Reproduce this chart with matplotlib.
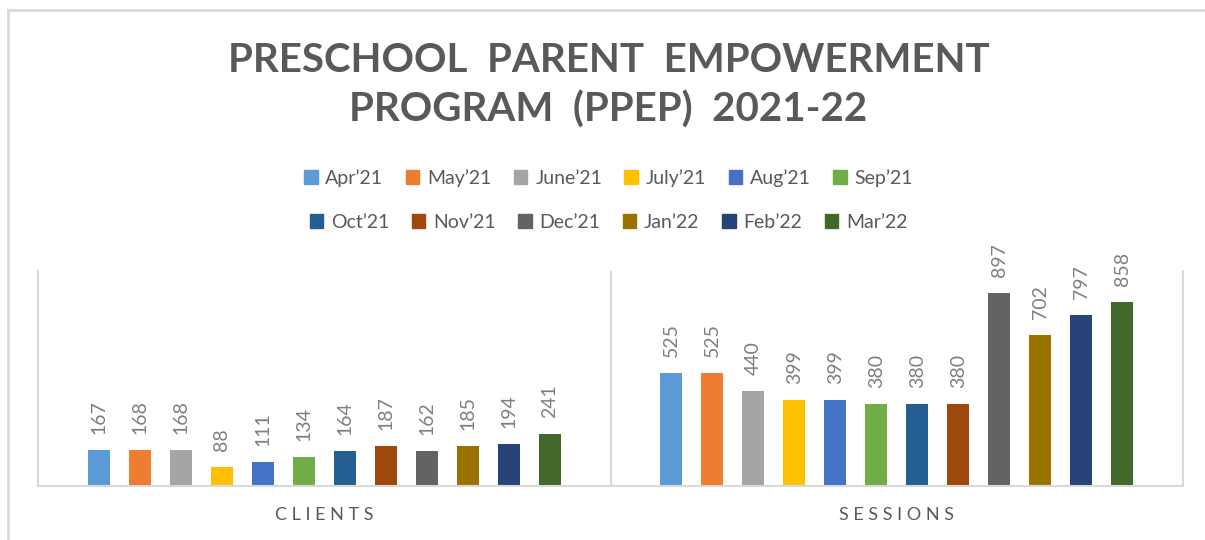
"""PPEP 2021-22: clients and sessions per month, grouped bar chart."""

import matplotlib

matplotlib.use("Agg")
import matplotlib.pyplot as plt
from matplotlib.lines import Line2D
from matplotlib.patches import Patch

plt.rcParams["font.family"] = ["Lato", "DejaVu Sans"]

categories = ["CLIENTS", "SESSIONS"]
months = ["Apr’21", "May’21", "June’21", "July’21", "Aug’21", "Sep’21",
          "Oct’21", "Nov’21", "Dec’21", "Jan’22", "Feb’22", "Mar’22"]
clients = [167, 168, 168, 88, 111, 134, 164, 187, 162, 185, 194, 241]
sessions = [525, 525, 440, 399, 399, 380, 380, 380, 897, 702, 797, 858]
colors = ["#5B9BD5", "#ED7D31", "#A5A5A5", "#FFC000", "#4472C4", "#70AD47",
          "#255E91", "#9E480E", "#636363", "#997300", "#264478", "#43682B"]

TEXT = "#595959"
LABEL = "#7F7F7F"
LINE = "#D9D9D9"

fig = plt.figure(figsize=(12.05, 5.40), dpi=100)
ax = fig.add_axes([38 / 1205, 54 / 540, 1145 / 1205, 215 / 540])

slot = 41 / 572.5
width = 22 / 572.5
for i, (month, color) in enumerate(zip(months, colors)):
    xs = [c + (i - 5.5) * slot for c in range(len(categories))]
    vals = [clients[i], sessions[i]]
    ax.bar(xs, vals, width=width, color=color, label=month, zorder=2)
    for x, v in zip(xs, vals):
        ax.annotate(str(v), (x, v), xytext=(0, 11.5), textcoords="offset points",
                    rotation=90, ha="center", va="bottom", color=LABEL, fontsize=14)

ax.set_xlim(-0.5, 1.5)
ax.set_ylim(0, 1000)
ax.set_yticks([])
ax.set_xticks([])
ax.spines["top"].set_visible(False)
for side in ["left", "right", "bottom"]:
    ax.spines[side].set_color(LINE)
    ax.spines[side].set_linewidth(1.5)
ax.axvline(0.5, color=LINE, lw=1.5, zorder=1)

for c, name in enumerate(categories):
    ax.text(c, -0.135, " ".join(name), transform=ax.get_xaxis_transform(),
            ha="center", va="center", color=TEXT, fontsize=13)

fig.text(0.505, 1 - 60 / 540, "PRESCHOOL  PARENT  EMPOWERMENT", ha="center", va="center",
         fontsize=29, fontweight="bold", color=TEXT)
fig.text(0.505, 1 - 110 / 540, "PROGRAM  (PPEP)  2021-22", ha="center", va="center",
         fontsize=29, fontweight="bold", color=TEXT)

# two legend rows, each centred on its own like Excel does
for row, y in enumerate([178, 222]):
    handles = [Patch(color=colors[k]) for k in range(row * 6, row * 6 + 6)]
    labels = months[row * 6: row * 6 + 6]
    fig.legend(handles, labels, loc="center", bbox_to_anchor=(0.505, 1 - y / 540),
               ncol=6, frameon=False, fontsize=14, handlelength=0.7, handleheight=0.7,
               handletextpad=0.4, columnspacing=1.15, labelcolor=TEXT)

# outer chart frame (cut off at the right and bottom)
fig.add_artist(Line2D([8 / 1205, 1], [1 - 10 / 540] * 2, color=LINE, lw=2))
fig.add_artist(Line2D([8 / 1205] * 2, [0, 1 - 10 / 540], color=LINE, lw=2))

fig.savefig("out.png", dpi=100)
